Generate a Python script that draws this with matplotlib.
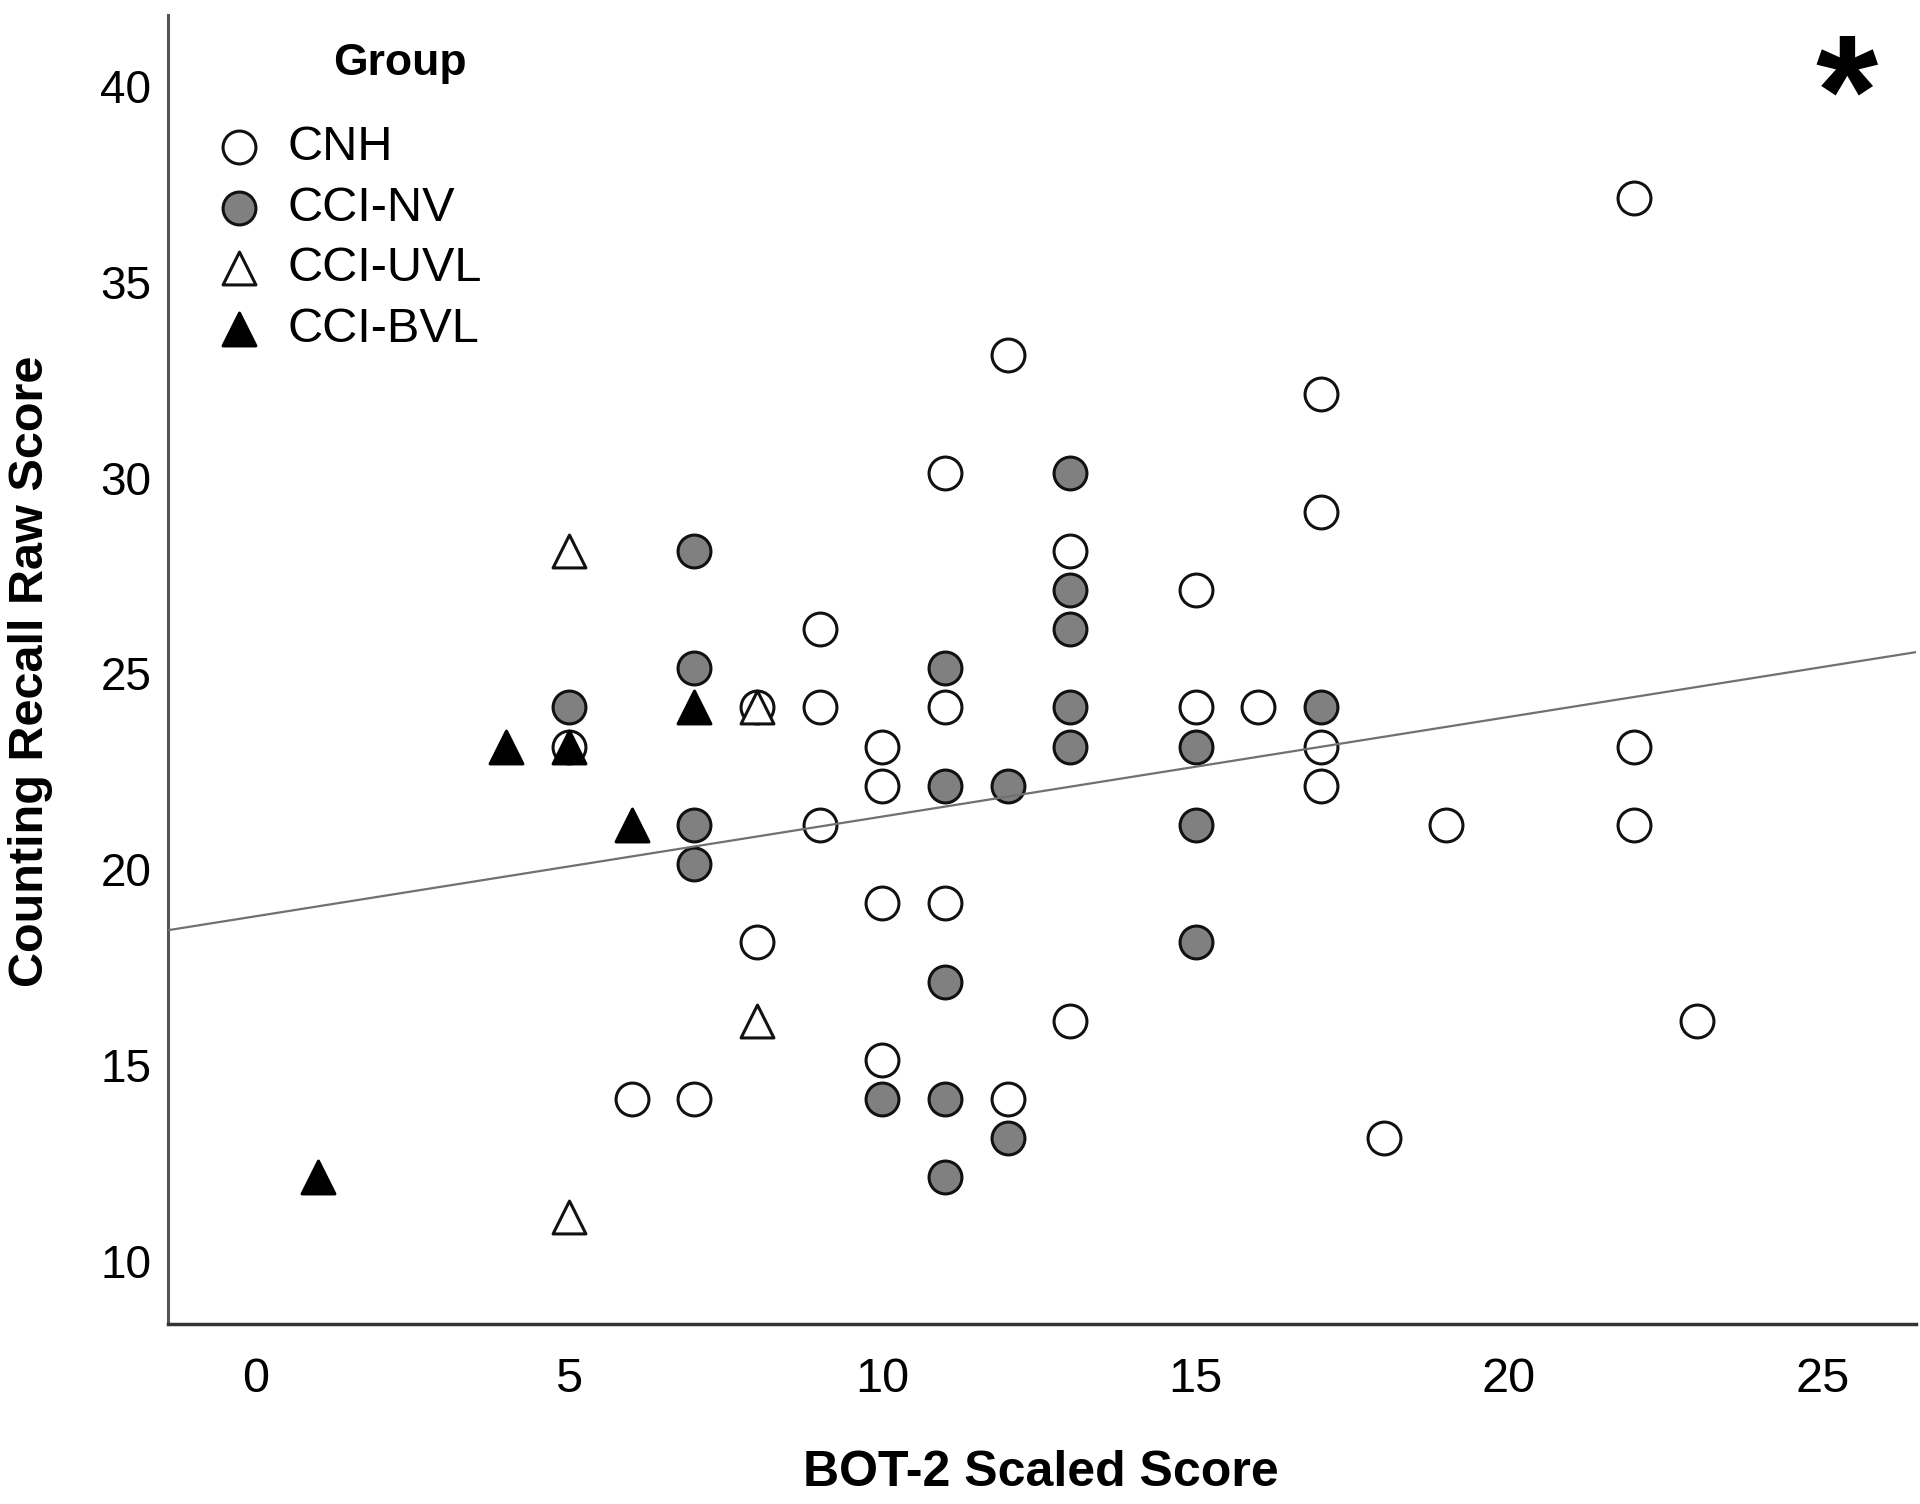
import numpy as np
import matplotlib
matplotlib.use("Agg")
import matplotlib.pyplot as plt
from matplotlib.transforms import ScaledTranslation

# CNH (open circles)
cnh_x = [22, 12, 17, 11, 17, 13, 15, 9, 8, 9, 11, 15, 16, 5, 10, 17, 22, 10, 17,
         9, 19, 22, 10, 11, 8, 13, 23, 10, 6, 7, 12, 18]
cnh_y = [37, 33, 32, 30, 29, 28, 27, 26, 24, 24, 24, 24, 24, 23, 23, 23, 23, 22, 22,
         21, 21, 21, 19, 19, 18, 16, 16, 15, 14, 14, 14, 13]

# CCI-NV (grey circles)
nv_x = [13, 7, 13, 13, 7, 11, 5, 13, 17, 13, 15, 11, 12, 7, 15, 7, 15, 11, 10, 11, 12, 11]
nv_y = [30, 28, 27, 26, 25, 25, 24, 24, 24, 23, 23, 22, 22, 21, 21, 20, 18, 17, 14, 14, 13, 12]

# CCI-UVL (open triangles)
uvl_x = [5, 8, 8, 5]
uvl_y = [28, 24, 16, 11]

# CCI-BVL (black triangles)
bvl_x = [4, 5, 7, 6, 1]
bvl_y = [23, 23, 24, 21, 12]

# fit line
fit_intercept = 18.67
fit_slope = 0.2545

x_ticks = [0, 5, 10, 15, 20, 25]
y_ticks = [10, 15, 20, 25, 30, 35, 40]

plt.rcParams['font.family'] = ['Liberation Sans', 'DejaVu Sans']

fig = plt.figure(figsize=(19.2, 15.04), dpi=100)
ax = fig.add_axes([0.0875, 0.1197, 0.9105, 0.8703])

ms = 560
ew = 2.2
ax.scatter(cnh_x, cnh_y, s=ms, marker='o', facecolor='white', edgecolor='#111111', linewidth=ew, zorder=3, label='CNH')
ax.scatter(nv_x, nv_y, s=ms, marker='o', facecolor='#808080', edgecolor='#111111', linewidth=ew, zorder=3, label='CCI-NV')
ax.scatter(uvl_x, uvl_y, s=ms, marker='^', facecolor='white', edgecolor='#111111', linewidth=ew, zorder=4, label='CCI-UVL')
ax.scatter(bvl_x, bvl_y, s=ms, marker='^', facecolor='black', edgecolor='black', linewidth=ew, zorder=4, label='CCI-BVL')

xlim = (-1.4, 26.5)
xs = np.array(xlim)
ax.plot(xs, fit_intercept + fit_slope * xs, color='#707070', lw=1.6, zorder=5)

ax.set_xlim(xlim)
ax.set_ylim(8.26, 41.68)
ax.set_xticks(x_ticks)
ax.set_yticks(y_ticks)
ax.tick_params(axis='both', length=0, labelsize=33)
ax.tick_params(axis='x', pad=24)
ax.tick_params(axis='y', pad=12)
for lab in ax.get_xticklabels():
    lab.set_family(['Liberation Sans Narrow', 'Liberation Sans'])
    lab.set_fontsize(35)
# y labels sit a little below their values in the original
shift = ScaledTranslation(0, -0.05, fig.dpi_scale_trans)
for lab in ax.get_yticklabels():
    lab.set_transform(lab.get_transform() + shift)

for s in ['top', 'right']:
    ax.spines[s].set_visible(False)
ax.spines['left'].set_color('#555555')
ax.spines['left'].set_linewidth(2.2)
ax.spines['bottom'].set_color('#333333')
ax.spines['bottom'].set_linewidth(2.5)

fig.text(1041 / 1920, 1 - 1473 / 1504, 'BOT-2 Scaled Score', fontsize=36, fontweight='bold',
         family=['Liberation Sans Narrow', 'Liberation Sans'], ha='center', va='center')
fig.text(31 / 1920, 1 - 671 / 1504, 'Counting Recall Raw Score', fontsize=35, fontweight='bold',
         family=['Liberation Sans Narrow', 'Liberation Sans'], ha='center', va='center', rotation=90)

fig.text(1847 / 1920, 1 - 104 / 1504, '*', fontsize=115, fontweight='bold', ha='center', va='center')

leg = ax.legend(loc='upper left', bbox_to_anchor=(215 / 1920, 1 - 125 / 1504),
                bbox_transform=fig.transFigure, frameon=False, fontsize=35,
                handlelength=1.0, handletextpad=0.5, labelspacing=0.32,
                borderaxespad=0, borderpad=0, scatterpoints=1)
fig.text(400 / 1920, 1 - 64 / 1504, 'Group', fontsize=32, fontweight='bold',
         ha='center', va='center')

fig.savefig('out.png', dpi=100)
